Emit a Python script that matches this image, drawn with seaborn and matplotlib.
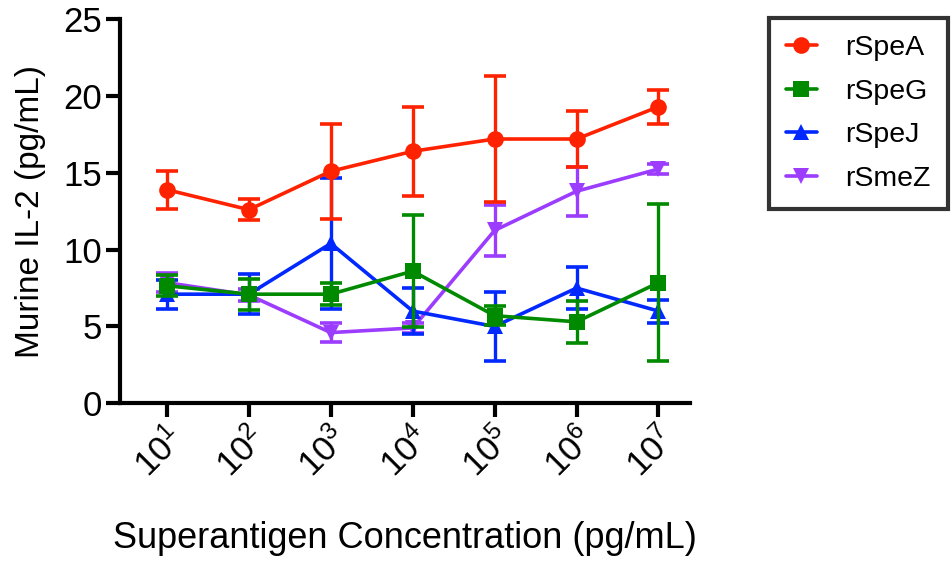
import matplotlib
matplotlib.use("Agg")
import matplotlib.pyplot as plt
import numpy as np
import pandas as pd
import seaborn as sns

# concentrations (pg/mL)
concentration = [1e1, 1e2, 1e3, 1e4, 1e5, 1e6, 1e7]
tick_labels = ['$10^1$', '$10^2$', '$10^3$', '$10^4$', '$10^5$', '$10^6$', '$10^7$']

# mean IL-2 values and error
speA_mean = [13.9, 12.6, 15.1, 16.4, 17.2, 17.2, 19.3]
speA_err = [1.25, 0.7, 3.1, 2.9, 4.1, 1.8, 1.1]
speG_mean = [7.65, 7.1, 7.1, 8.6, 5.7, 5.3, 7.85]
speG_err = [0.7, 1.0, 0.7, 3.65, 0.6, 1.35, 5.1]
speJ_mean = [7.1, 7.1, 10.4, 6.0, 5.0, 7.5, 6.0]
speJ_err = [0.95, 1.3, 4.25, 1.5, 2.25, 1.35, 0.75]
smeZ_mean = [7.85, 7.05, 4.6, 4.9, 11.25, 13.8, 15.25]
smeZ_err = [0.6, 0.4, 0.6, 0.3, 1.65, 1.6, 0.35]

series = ['rSpeA', 'rSpeG', 'rSpeJ', 'rSmeZ']
means = [speA_mean, speG_mean, speJ_mean, smeZ_mean]
errs = [speA_err, speG_err, speJ_err, smeZ_err]
colors = ['#FF2200', '#008A00', '#0028FF', '#9B3CFF']
markers = ['o', 's', '^', 'v']

sns.set_style("ticks")
plt.rcParams['font.family'] = ['Liberation Sans', 'DejaVu Sans']
plt.rcParams['mathtext.fontset'] = 'custom'
plt.rcParams['mathtext.rm'] = 'Liberation Sans'
plt.rcParams['mathtext.it'] = 'Liberation Sans'
plt.rcParams['text.color'] = 'black'
plt.rcParams['axes.labelcolor'] = 'black'
plt.rcParams['xtick.color'] = 'black'
plt.rcParams['ytick.color'] = 'black'

fig = plt.figure(figsize=(9.51, 5.64), dpi=100)
ax = fig.add_axes([0.126, 0.285, 0.600, 0.681])

rows = []
for name, m in zip(series, means):
    for c, v in zip(concentration, m):
        rows.append({'conc': c, 'il2': v, 'toxin': name})
df = pd.DataFrame(rows)

# draw in reverse so rSpeA ends up on top
for i in reversed(range(len(series))):
    sub = df[df['toxin'] == series[i]]
    ax.errorbar(concentration, means[i], yerr=errs[i], fmt='none',
                ecolor=colors[i], elinewidth=2.4, capsize=8, capthick=2.6,
                zorder=2 + (3 - i))
    sns.lineplot(data=sub, x='conc', y='il2', ax=ax, color=colors[i],
                 marker=markers[i], markersize=12, markeredgewidth=0,
                 linewidth=2.6, label=series[i], zorder=3 + (3 - i),
                 errorbar=None)

ax.set_xscale('log')
ax.set_xlim(10 ** 0.425, 10 ** 7.39)
ax.set_ylim(0, 25)
ax.set_xticks(concentration)
ax.set_xticklabels(tick_labels, rotation=45, ha='right', rotation_mode='anchor')
ax.xaxis.set_minor_locator(matplotlib.ticker.NullLocator())
ax.set_yticks([0, 5, 10, 15, 20, 25])

sns.despine(ax=ax)
for side in ['left', 'bottom']:
    ax.spines[side].set_linewidth(3)
    ax.spines[side].set_color('black')
ax.tick_params(axis='both', which='major', length=10, width=3, color='black',
               labelsize=25, direction='out', left=True, bottom=True)
ax.tick_params(axis='x', pad=3)
ax.tick_params(axis='y', pad=3)

ax.set_ylabel('Murine IL-2 (pg/mL)', fontsize=24, labelpad=12)
ax.set_xlabel('Superantigen Concentration (pg/mL)', fontsize=26, labelpad=27)

handles, labels = ax.get_legend_handles_labels()
order = [labels.index(s) for s in series]
leg = ax.legend([handles[k] for k in order], [labels[k] for k in order],
                loc='upper left', bbox_to_anchor=(1.137, 1.003), fontsize=20.5,
                frameon=True, fancybox=False, handlelength=1.1,
                borderpad=0.6, labelspacing=0.62, handletextpad=1.0,
                borderaxespad=0)
leg.get_frame().set_edgecolor('black')
leg.get_frame().set_linewidth(3)

fig.savefig('out.png', dpi=100)
